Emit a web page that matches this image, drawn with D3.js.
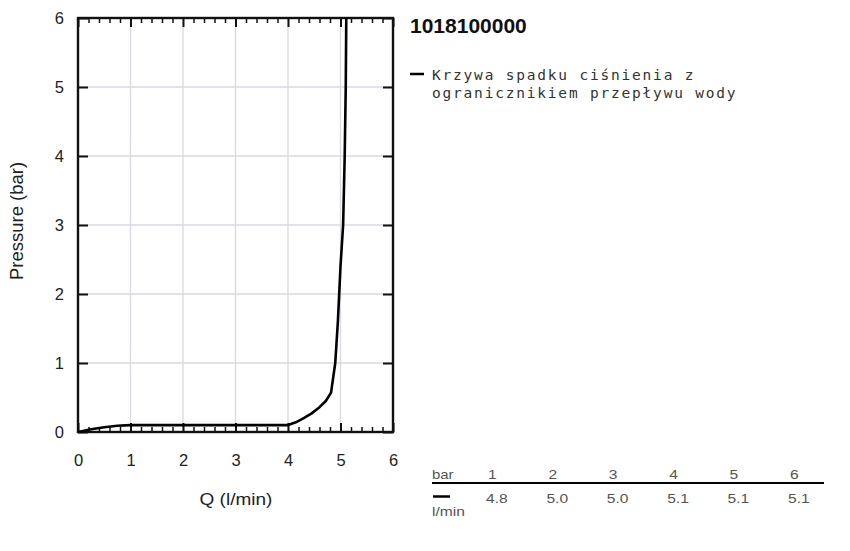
<!DOCTYPE html>
<html><head><meta charset="utf-8">
<script src="https://cdn.jsdelivr.net/npm/d3@7"></script>
<style>body{margin:0;background:#fff}svg{display:block}</style>
</head><body>
<svg id="c" width="850" height="551"></svg>
<script>
const title = "1018100000";
const seriesName = ["Krzywa spadku ciśnienia z", "ogranicznikiem przepływu wody"];
const flowQ =    [0, 0.25, 0.5, 0.75, 1.0, 4.0, 4.15, 4.3, 4.45, 4.6, 4.72, 4.82, 4.9, 4.95, 5.0, 5.05, 5.08, 5.1, 5.11];
const pressure = [0, 0.04, 0.07, 0.09, 0.1, 0.1, 0.14, 0.2, 0.27, 0.36, 0.45, 0.57, 1.0, 1.6, 2.4, 3.0, 4.0, 5.0, 6.0];
const xTicks = [0, 1, 2, 3, 4, 5, 6];
const yTicks = [0, 1, 2, 3, 4, 5, 6];
const tableBar = ["1", "2", "3", "4", "5", "6"];
const tableFlow = ["4.8", "5.0", "5.0", "5.1", "5.1", "5.1"];

const svg = d3.select("#c");
const L = 78, R = 393, T = 18, B = 432;
const x = d3.scaleLinear().domain([0, 6]).range([L, R]);
const y = d3.scaleLinear().domain([0, 6]).range([B, T]);
const font = "'Liberation Sans', Arial, sans-serif";

// grid
const g = svg.append("g");
g.selectAll(".gx").data(xTicks.slice(1, -1)).join("line")
  .attr("x1", d => x(d)).attr("x2", d => x(d)).attr("y1", T).attr("y2", B)
  .attr("stroke", "#d8d9e3").attr("stroke-width", 1.3);
g.selectAll(".gy").data(yTicks.slice(1, -1)).join("line")
  .attr("y1", d => y(d)).attr("y2", d => y(d)).attr("x1", L).attr("x2", R)
  .attr("stroke", "#d8d9e3").attr("stroke-width", 1.3);

// minor x ticks
const minor = d3.range(0, 6.0001, 0.2).filter(v => Math.abs(v - Math.round(v)) > 1e-6);
function styleAxis(a) {
  a.select(".domain").remove();
  a.selectAll(".tick line").attr("stroke", "#111").attr("stroke-width", 2);
  a.selectAll(".tick text").attr("font-family", font).attr("font-size", 16.5).attr("fill", "#222");
}
function styleMinor(a) {
  a.select(".domain").remove();
  a.selectAll(".tick line").attr("stroke", "#111").attr("stroke-width", 1.5);
}
svg.append("g").attr("transform", `translate(0,${B})`)
  .call(d3.axisBottom(x).tickValues(minor).tickSize(-5).tickFormat("")).call(styleMinor);
svg.append("g").attr("transform", `translate(0,${T})`)
  .call(d3.axisTop(x).tickValues(minor).tickSize(-5).tickFormat("")).call(styleMinor);
svg.append("g").attr("transform", `translate(0,${B})`)
  .call(d3.axisBottom(x).tickValues(xTicks).tickSize(-9).tickPadding(22).tickFormat(d3.format("d")))
  .call(styleAxis);
svg.append("g").attr("transform", `translate(0,${T})`)
  .call(d3.axisTop(x).tickValues(xTicks).tickSize(-9).tickFormat(""))
  .call(styleAxis);
svg.append("g").attr("transform", `translate(${L},0)`)
  .call(d3.axisLeft(y).tickValues(yTicks).tickSize(-10).tickPadding(14).tickFormat(d3.format("d")))
  .call(styleAxis);
svg.append("g").attr("transform", `translate(${R},0)`)
  .call(d3.axisRight(y).tickValues(yTicks).tickSize(-10).tickFormat(""))
  .call(styleAxis);

// frame
svg.append("rect").attr("x", L).attr("y", T).attr("width", R - L).attr("height", B - T)
  .attr("fill", "none").attr("stroke", "#111").attr("stroke-width", 2.4);

// curve
const pts = flowQ.map((q, i) => [q, pressure[i]]);
svg.append("path").datum(pts)
  .attr("d", d3.line().x(d => x(d[0])).y(d => y(d[1])))
  .attr("fill", "none").attr("stroke", "#000").attr("stroke-width", 2.6).attr("stroke-linejoin", "round");

// axis labels
svg.append("text").attr("transform", "translate(236,505) scale(1.12,1)").attr("text-anchor", "middle")
  .attr("font-family", font).attr("font-size", 17).attr("fill", "#222").text("Q (l/min)");
svg.append("text").attr("transform", "translate(23,221) rotate(-90)").attr("text-anchor", "middle")
  .attr("font-family", font).attr("font-size", 18.5).attr("fill", "#222").text("Pressure (bar)");

// title
svg.append("text").attr("x", 410).attr("y", 33).attr("font-family", font).attr("font-weight", "bold")
  .attr("font-size", 21).attr("fill", "#111").text(title);

// legend
svg.append("line").attr("x1", 410).attr("x2", 424).attr("y1", 74).attr("y2", 74)
  .attr("stroke", "#000").attr("stroke-width", 2.5);
svg.selectAll(".leg").data(seriesName).join("text")
  .attr("x", 432).attr("y", (d, i) => 80 + i * 18)
  .attr("font-family", "'DejaVu Sans Mono', monospace").attr("font-size", 14.5)
  .attr("letter-spacing", 1.8).attr("fill", "#333")
  .text(d => d);

// table
const tx = d3.scalePoint().domain(tableBar).range([488, 790]);
const tf = (sel) => sel.attr("font-family", font).attr("font-size", 13).attr("fill", "#555");
svg.append("text").attr("transform", "translate(432,479) scale(1.15,1)").call(tf).text("bar");
svg.selectAll(".tb").data(tableBar).join("text")
  .attr("transform", d => `translate(${tx(d)},479) scale(1.2,1)`).call(tf).text(d => d);
svg.append("line").attr("x1", 432).attr("x2", 824).attr("y1", 483).attr("y2", 483)
  .attr("stroke", "#000").attr("stroke-width", 2.2);
svg.append("line").attr("x1", 433).attr("x2", 450).attr("y1", 496.5).attr("y2", 496.5)
  .attr("stroke", "#000").attr("stroke-width", 2.5);
svg.selectAll(".tf").data(tableFlow).join("text")
  .attr("transform", (d, i) => `translate(${tx(tableBar[i]) - 2},503) scale(1.2,1)`).call(tf).text(d => d);
svg.append("text").attr("transform", "translate(432,516) scale(1.2,1)").call(tf).text("l/min");
</script>
</body></html>
